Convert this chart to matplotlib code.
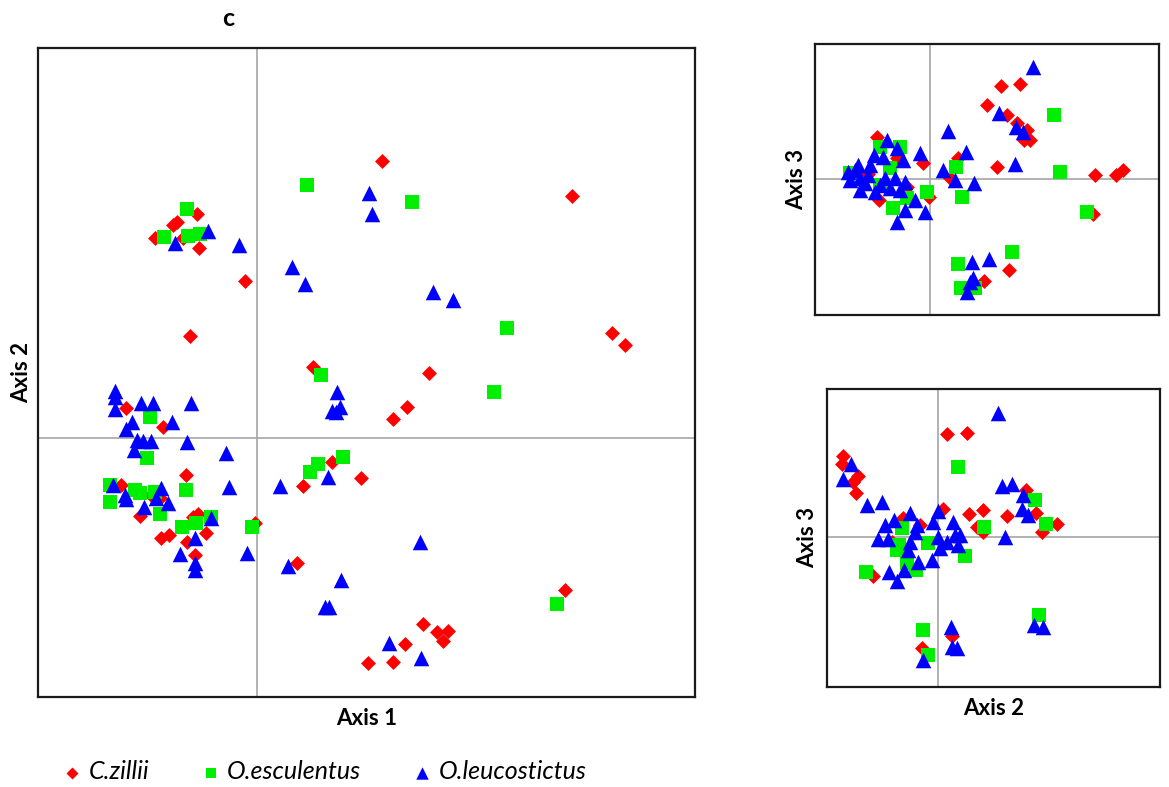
import matplotlib.pyplot as plt
import numpy as np

plt.rcParams['font.family'] = ['Lato', 'DejaVu Sans']

species = ["C.zillii", "O.esculentus", "O.leucostictus"]

# Axis 1 vs Axis 2 scores
cz_12 = [(1.25, 2.77), (3.15, 2.42), (-0.60, 2.24), (-0.84, 2.13), (-0.80, 2.16), (-1.02, 2.00),
         (-0.74, 2.00), (-0.58, 1.90), (-0.12, 1.57), (-0.67, 1.02), (3.55, 1.05), (3.68, 0.93),
         (0.56, 0.71), (1.72, 0.65), (1.50, 0.31), (1.36, 0.19), (-1.31, 0.30), (-0.94, 0.11),
         (0.75, -0.24), (0.46, -0.48), (1.04, -0.40), (-0.71, -0.37), (-1.36, -0.47), (-1.06, -0.57),
         (-0.97, -0.60), (-1.17, -0.78), (-0.59, -0.76), (-0.64, -0.79), (-0.51, -0.95), (-0.96, -1.00),
         (-0.88, -0.97), (-0.70, -1.04), (-0.62, -1.17), (-0.02, -0.85), (0.40, -1.25), (3.08, -1.52),
         (1.66, -1.86), (1.80, -1.94), (1.91, -1.93), (1.86, -2.03), (1.48, -2.06), (1.36, -2.24),
         (1.11, -2.25)]
oe_12 = [(0.50, 2.53), (1.55, 2.36), (-0.70, 2.29), (-0.93, 2.01), (-0.69, 2.02), (-0.57, 2.04),
         (2.50, 1.10), (2.37, 0.46), (0.64, 0.63), (-1.07, 0.21), (-1.10, -0.20), (0.86, -0.19),
         (0.61, -0.26), (0.53, -0.34), (-0.71, -0.52), (-1.47, -0.64), (-1.47, -0.47), (-1.22, -0.52),
         (-1.17, -0.55), (-1.02, -0.54), (-0.97, -0.76), (-0.46, -0.79), (-0.61, -0.85), (-0.75, -0.89),
         (-0.05, -0.89), (3.00, -1.66)]
ol_12 = [(1.12, 2.45), (1.15, 2.24), (-0.49, 2.07), (-0.82, 1.95), (-0.18, 1.93), (0.35, 1.71),
         (0.48, 1.54), (1.76, 1.46), (1.96, 1.38), (0.80, 0.46), (0.75, 0.27), (0.83, 0.31),
         (0.79, 0.26), (-1.42, 0.47), (-1.42, 0.41), (-1.42, 0.29), (-1.16, 0.35), (-1.04, 0.35),
         (-0.66, 0.35), (-1.25, 0.16), (-1.31, 0.09), (-0.85, 0.16), (-1.20, -0.02), (-1.14, -0.03),
         (-1.06, -0.03), (-1.23, -0.12), (-0.70, -0.04), (-0.31, -0.15), (-0.28, -0.49), (0.23, -0.48),
         (0.71, -0.39), (-1.44, -0.47), (-1.32, -0.57), (-1.31, -0.61), (-0.96, -0.50), (-1.01, -0.60),
         (-0.89, -0.65), (-1.13, -0.69), (-0.46, -0.80), (-0.62, -1.00), (-0.77, -1.16), (-0.62, -1.25),
         (-0.62, -1.32), (-0.10, -1.15), (0.31, -1.28), (1.63, -1.04), (0.84, -1.42), (0.68, -1.69),
         (0.72, -1.69), (1.32, -2.05), (1.64, -2.20)]

# Axis 1 vs Axis 3 scores
cz_13 = [(-0.53, 0.42), (-0.33, 0.21), (-0.07, 0.16), (-0.23, -0.08), (-0.51, -0.21), (-0.01, -0.18),
         (-0.62, 0.05), (0.28, 0.21), (0.20, 0.01), (0.57, 0.74), (0.71, 0.93), (0.90, 0.95),
         (0.77, 0.64), (0.87, 0.56), (0.97, 0.49), (1.00, 0.39), (0.94, 0.39), (0.67, 0.12),
         (1.65, 0.04), (1.86, 0.04), (1.93, 0.09), (1.63, -0.35), (0.79, -0.91), (0.54, -1.02)]
oe_13 = [(-0.50, 0.32), (-0.30, 0.32), (-0.40, 0.11), (-0.80, 0.06), (-0.23, -0.19), (-0.37, -0.29),
         (-0.03, -0.13), (0.26, 0.12), (0.32, -0.18), (1.24, 0.64), (1.30, 0.07), (1.57, -0.33),
         (0.82, -0.73), (0.28, -0.85), (0.31, -1.09), (0.45, -1.09), (-0.50, -0.06)]
ol_13 = [(-0.43, 0.39), (-0.33, 0.31), (-0.27, 0.19), (-0.56, 0.24), (-0.47, 0.22), (-0.10, 0.26),
         (-0.75, 0.09), (-0.70, 0.01), (-0.80, -0.01), (-0.62, 0.04), (-0.50, -0.06), (-0.40, -0.09),
         (-0.30, -0.11), (-0.70, -0.11), (-0.55, -0.13), (-0.35, 0.01), (-0.25, -0.03), (-0.65, -0.04),
         (-0.45, 0.01), (-0.60, 0.14), (-0.72, 0.14), (-0.82, 0.07), (-0.15, -0.21), (-0.25, -0.31),
         (-0.05, -0.33), (-0.33, -0.43), (0.18, 0.48), (0.36, 0.27), (0.13, 0.09), (0.25, -0.01),
         (0.44, -0.04), (1.03, 1.12), (0.69, 0.66), (0.86, 0.52), (0.93, 0.47), (0.85, 0.15),
         (0.59, -0.80), (0.42, -0.83), (0.43, -0.99), (0.40, -1.03), (0.37, -1.13)]

# Axis 2 vs Axis 3 scores
cz_23 = [(-0.95, 0.81), (-0.96, 0.73), (-0.80, 0.61), (-0.85, 0.55), (-0.82, 0.44), (0.09, 1.03),
         (0.29, 1.04), (0.05, 0.28), (0.31, 0.23), (0.45, 0.27), (0.39, 0.10), (0.45, 0.05),
         (-0.35, 0.19), (-0.46, -0.05), (-0.65, -0.39), (-0.16, -1.11), (0.14, -0.99), (0.88, 0.47),
         (0.98, 0.24), (0.69, 0.21), (1.19, 0.13), (1.04, 0.05), (-0.18, 0.12)]
oe_23 = [(0.20, 0.70), (0.46, 0.10), (-0.36, 0.09), (-0.39, -0.08), (-0.10, -0.06), (-0.41, -0.13),
         (-0.31, -0.26), (0.27, -0.19), (-0.22, -0.33), (-0.72, -0.35), (-0.15, -0.93), (-0.10, -1.18),
         (0.97, 0.37), (1.08, 0.13), (1.01, -0.78)]
ol_23 = [(-0.87, 0.73), (-0.95, 0.58), (-0.71, 0.32), (-0.56, 0.35), (0.60, 1.24), (0.00, 0.26),
         (0.15, 0.15), (-0.53, 0.12), (-0.44, 0.17), (-0.28, 0.24), (-0.21, 0.12), (-0.05, 0.15),
         (-0.60, -0.02), (-0.50, -0.02), (-0.28, -0.05), (-0.23, 0.05), (0.00, 0.00), (0.09, -0.05),
         (0.17, 0.02), (0.20, -0.08), (0.02, -0.11), (-0.30, -0.13), (-0.06, -0.23), (-0.20, -0.25),
         (-0.34, -0.33), (-0.49, -0.35), (-0.41, -0.44), (-0.15, -1.23), (0.13, -0.90), (0.14, -1.10),
         (0.19, -1.11), (0.64, 0.51), (0.74, 0.53), (0.85, 0.42), (0.84, 0.28), (0.90, 0.22),
         (0.67, 0.00), (0.96, -0.88), (1.05, -0.90), (0.22, 0.02)]

styles = [dict(marker='D', color='#FF0000', s=58),
          dict(marker='s', color='#00EE00', s=88),
          dict(marker='^', color='#0000FF', s=125)]


def panel(ax, groups, xlim, ylim):
    ax.axvline(0, color='#A6A6A6', lw=1.2, zorder=1)
    ax.axhline(0, color='#A6A6A6', lw=1.2, zorder=1)
    handles = []
    for pts, st, name in zip(groups, styles, species):
        pts = np.array(pts)
        h = ax.scatter(pts[:, 0], pts[:, 1], marker=st['marker'], c=st['color'], s=st['s'],
                       linewidths=0, label=name, zorder=2)
        handles.append(h)
    ax.set_xlim(xlim)
    ax.set_ylim(ylim)
    ax.set_xticks([])
    ax.set_yticks([])
    for sp in ax.spines.values():
        sp.set_linewidth(1.6)
        sp.set_color('#1a1a1a')
    return handles


fig = plt.figure(figsize=(11.69, 7.87), dpi=100)

ax1 = fig.add_axes([0.0325, 0.1144, 0.562, 0.8247])
h = panel(ax1, [cz_12, oe_12, ol_12], (-2.19, 4.38), (-2.59, 3.90))
ax1.set_xlabel('Axis 1', fontsize=16, fontweight='bold', labelpad=8)
ax1.set_ylabel('Axis 2', fontsize=16, fontweight='bold', labelpad=4)
ax1.set_title('c', fontsize=18, fontweight='bold', x=0.29, pad=16)

ax2 = fig.add_axes([0.6972, 0.5997, 0.2943, 0.3443])
panel(ax2, [cz_13, oe_13, ol_13], (-1.15, 2.29), (-1.36, 1.35))
ax2.set_ylabel('Axis 3', fontsize=16, fontweight='bold', labelpad=6)

ax3 = fig.add_axes([0.7074, 0.1271, 0.2849, 0.3787])
panel(ax3, [cz_23, oe_23, ol_23], (-1.11, 2.22), (-1.50, 1.48))
ax3.set_xlabel('Axis 2', fontsize=16, fontweight='bold', labelpad=8)
ax3.set_ylabel('Axis 3', fontsize=16, fontweight='bold', labelpad=6)

fig.legend(handles=h, labels=species, loc='lower left', bbox_to_anchor=(0.032, -0.024),
           ncol=3, frameon=False, markerscale=0.8, handletextpad=0.15, columnspacing=1.95,
           handlelength=1.0, prop=dict(style='italic', size=18))

fig.savefig('out.png', dpi=100)
